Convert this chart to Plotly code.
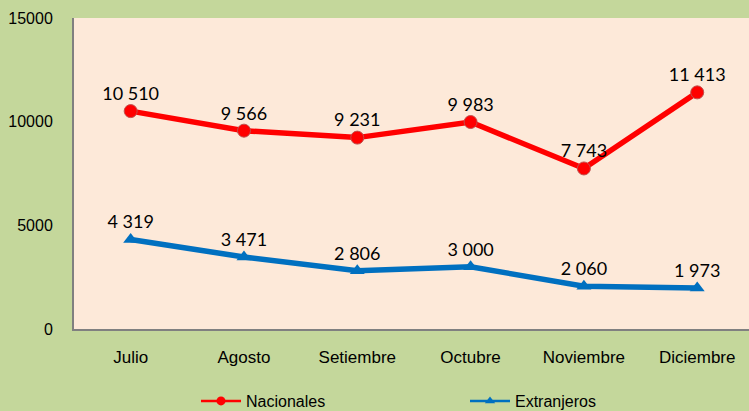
import plotly.graph_objects as go

months = ["Julio", "Agosto", "Setiembre", "Octubre", "Noviembre", "Diciembre"]
nacionales = [10510, 9566, 9231, 9983, 7743, 11413]
extranjeros = [4319, 3471, 2806, 3000, 2060, 1973]
y_ticks = [0, 5000, 10000, 15000]


def fmt(v):
    return f"{v:,}".replace(",", " ")


label_font = dict(family="Lato, Carlito, sans-serif", size=18, color="#000000")

series = [
    ("Nacionales", nacionales, "#ff0000", "circle", dict(color="#c0504d", width=1)),
    ("Extranjeros", extranjeros, "#0070c0", "triangle-up", dict(width=0)),
]

fig = go.Figure()
for name, vals, color, symbol, mline in series:
    # plotted line + markers
    fig.add_trace(go.Scatter(
        x=months, y=vals, name=name, mode="lines+markers", showlegend=False,
        legendgroup=name,
        line=dict(color=color, width=5.5),
        marker=dict(symbol=symbol, size=13, color=color, line=mline),
    ))
    # legend entry (thin line, small marker, as in the original)
    fig.add_trace(go.Scatter(
        x=[None], y=[None], name=name, mode="lines+markers", legendgroup=name,
        line=dict(color=color, width=2.5),
        marker=dict(symbol=symbol, size=9, color=color),
    ))

# data labels on top of all lines (invisible markers set the label offset)
for name, vals, color, symbol, mline in series:
    fig.add_trace(go.Scatter(
        x=months, y=vals, mode="markers+text", showlegend=False, legendgroup=name,
        text=[fmt(v) for v in vals], textposition="top center",
        marker=dict(size=9, color="rgba(0,0,0,0)"), textfont=label_font,
        cliponaxis=False, hoverinfo="skip",
    ))

fig.update_layout(
    width=749, height=411,
    margin=dict(l=74, r=0, t=18, b=82, autoexpand=False),
    paper_bgcolor="#c4d79b",
    plot_bgcolor="#fde9d9",
    font=dict(family="Liberation Sans, Arial, sans-serif", size=17, color="#000000"),
    showlegend=True,
    legend=dict(orientation="h", xref="container", yref="paper",
                x=196 / 749, xanchor="left", y=-0.2315, yanchor="middle",
                entrywidth=214, entrywidthmode="pixels", itemwidth=40,
                font=dict(size=16), bgcolor="rgba(0,0,0,0)",
                tracegroupgap=0),
)
fig.update_xaxes(
    type="category", range=[-0.5, 5.457], showgrid=False, automargin=False,
    showline=True, linecolor="#808080", linewidth=2,
    ticks="", ticklabelstandoff=12, tickfont=dict(size=17),
)
fig.update_yaxes(
    range=[0, 15000], tickvals=y_ticks, ticktext=[str(v) for v in y_ticks],
    showgrid=False, zeroline=False, automargin=False,
    showline=True, linecolor="#808080", linewidth=2,
    ticks="", ticklabelstandoff=16, tickfont=dict(size=16),
)

fig.write_html(
    "out.html",
    config={"displayModeBar": False},
    post_script="document.body.style.margin='0';document.body.style.overflow='hidden';",
)
